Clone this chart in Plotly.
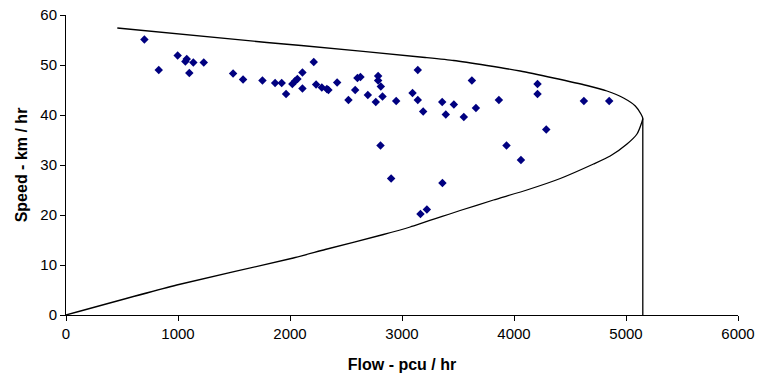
import plotly.graph_objects as go

# Observed data points (flow pcu/hr, speed km/hr)
obs_flow = [700, 828, 997, 1078, 1066, 1137, 1101, 1230, 1492, 1581, 1754, 1867, 1926,
            1965, 2021, 2046, 2066, 2111, 2111, 2212, 2233, 2284, 2329, 2343, 2421, 2522,
            2582, 2602, 2629, 2695, 2766, 2787, 2787, 2811, 2826, 2808, 2948, 3094, 3141,
            3141, 3189, 3359, 3391, 3463, 3552, 3624, 3660, 3865, 3933, 4210, 4210, 4288,
            4624, 4850, 4062, 2903, 3361, 3165, 3222]
obs_speed = [55.1, 49.0, 51.9, 51.2, 50.7, 50.5, 48.4, 50.5, 48.3, 47.1, 46.9, 46.4, 46.4,
             44.2, 46.2, 46.8, 47.2, 48.5, 45.3, 50.6, 46.1, 45.5, 45.2, 45.0, 46.5, 43.0,
             45.0, 47.4, 47.6, 44.0, 42.6, 47.8, 46.9, 45.7, 43.7, 33.9, 42.8, 44.4, 49.0,
             43.0, 40.7, 42.6, 40.1, 42.1, 39.6, 46.9, 41.4, 43.0, 33.9, 46.2, 44.2, 37.1,
             42.8, 42.8, 31.0, 27.3, 26.4, 20.2, 21.1]

# Speed-flow curve
curve_flow = [458, 1793, 2100, 3207, 3460, 3758, 4055, 4353, 4651, 4830, 4978, 5083,
              5136, 5150, 5142, 5098, 5009, 4859, 4710, 4413, 4115, 3817, 3519, 3073,
              2834, 2314, 2030, 989, 0]
curve_speed = [57.4, 54.5, 53.9, 51.5, 50.9, 49.9, 48.8, 47.4, 45.9, 44.8, 43.4, 41.8,
               40.1, 39.3, 38.6, 36.2, 34.2, 31.8, 30.2, 27.3, 25.0, 23.0, 20.9, 17.6,
               16.1, 13.1, 11.4, 6.0, 0.0]

# Capacity line
cap_flow = [5150, 5150]
cap_speed = [0, 39.3]

x_ticks = [0, 1000, 2000, 3000, 4000, 5000, 6000]
y_ticks = [0, 10, 20, 30, 40, 50, 60]

fig = go.Figure()
fig.add_trace(go.Scatter(x=curve_flow, y=curve_speed, mode="lines",
                         line=dict(color="black", width=1.3, shape="spline", smoothing=0.5),
                         hoverinfo="skip", showlegend=False))
fig.add_trace(go.Scatter(x=cap_flow, y=cap_speed, mode="lines",
                         line=dict(color="black", width=1.3),
                         hoverinfo="skip", showlegend=False))
fig.add_trace(go.Scatter(x=obs_flow, y=obs_speed, mode="markers",
                         marker=dict(symbol="diamond", size=6.5, color="#000080",
                                     line=dict(width=0)),
                         showlegend=False))

font = "Liberation Sans, Arial, sans-serif"
fig.update_layout(
    width=757, height=377,
    margin=dict(l=66, r=19, t=15, b=62),
    paper_bgcolor="white", plot_bgcolor="white",
    font=dict(family=font, size=15, color="black"),
    xaxis=dict(range=[0, 6000], tickvals=x_ticks, ticktext=[str(v) for v in x_ticks],
               showgrid=False, zeroline=False, showline=True, linecolor="black",
               linewidth=1, ticks="outside", ticklen=5, tickcolor="black",
               tickfont=dict(size=15), automargin=False,
               title=dict(text="<b>Flow - pcu / hr</b>", font=dict(size=16), standoff=17)),
    yaxis=dict(range=[0, 60], tickvals=y_ticks, ticktext=[str(v) for v in y_ticks],
               showgrid=False, zeroline=False, showline=True, linecolor="black",
               linewidth=1, ticks="outside", ticklen=5, tickcolor="black",
               tickfont=dict(size=15), automargin=False,
               title=dict(text="<b>Speed - km / hr</b>", font=dict(size=16), standoff=8)),
)

fig.write_html("out.html", config={"displayModeBar": False},
               post_script="document.body.style.margin='0';")
